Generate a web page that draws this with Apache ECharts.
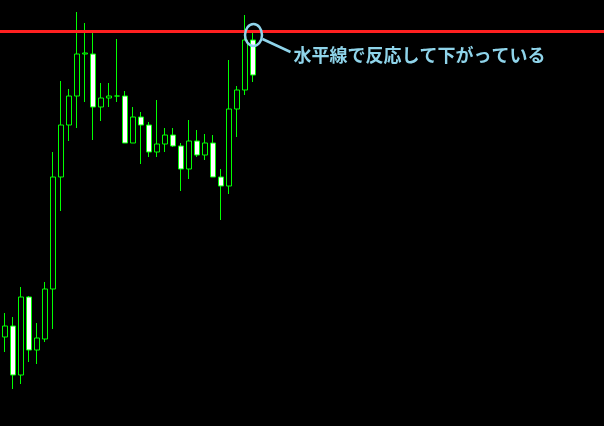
<!DOCTYPE html>
<html><head><meta charset="utf-8">
<script src="https://cdn.jsdelivr.net/npm/echarts@6/dist/echarts.min.js"></script>
<style>html,body{margin:0;padding:0;background:#000;}#c{width:604px;height:426px;}</style>
</head><body><div id="c"></div>
<script>
// candle values: open, close, low, high (arbitrary price units)
const categories = Array.from({length: 32}, (_, i) => 'C' + (i + 1));
const opens  = [89,100,51,129,76,87,137,249,301,330,372,372,319,328,330,330,283,309,301,274,282,291,280,257,285,271,283,249,240,317,336,386];
const closes = [100,51,129,76,88,137,249,301,330,372,373,319,328,330,330,283,309,301,274,282,291,280,257,285,271,283,249,240,317,336,386,351];
const lows   = [74,37,42,64,62,84,97,215,285,298,324,286,305,319,324,283,283,262,269,269,274,279,235,247,269,266,249,206,232,289,331,344];
const highs  = [113,109,139,130,103,144,274,345,337,414,403,394,343,343,387,335,319,314,304,326,298,298,283,306,296,292,291,257,366,340,411,393];
const levelLine = 394.5;
const noteText = '水平線で反応して下がっている';
const noteIndex = 31;

const data = opens.map((o, i) => [o, closes[i], lows[i], highs[i]]);
const chart = echarts.init(document.getElementById('c'));
chart.setOption({
  backgroundColor: '#000',
  animation: false,
  grid: {left: 1, top: 0, bottom: 0, width: 256},
  xAxis: {type: 'category', data: categories, show: false, boundaryGap: true},
  yAxis: {type: 'value', min: 0, max: 426, show: false},
  series: [{
    type: 'candlestick',
    data: data,
    barWidth: 5,
    itemStyle: {color: '#000', color0: '#fff', borderColor: '#00ff00', borderColor0: '#00ff00', borderWidth: 1}
  }]
});
const yLine = chart.convertToPixel({gridIndex: 0}, [0, levelLine])[1];
const pt = chart.convertToPixel({gridIndex: 0}, [noteIndex, highs[noteIndex]]);
const cx = pt[0] + 0.5, cy = pt[1] + 2;
const annColor = '#8fd4ea';
chart.setOption({
  graphic: [
    {type: 'line', shape: {x1: 0, y1: yLine, x2: 604, y2: yLine}, style: {stroke: '#ff2020', lineWidth: 3}, z: 10},
    {type: 'ellipse', shape: {cx: cx, cy: cy, rx: 8.5, ry: 11}, style: {stroke: annColor, lineWidth: 2.5, fill: null}, z: 11},
    {type: 'line', shape: {x1: cx + 9, y1: cy + 4, x2: cx + 37, y2: cy + 17}, style: {stroke: annColor, lineWidth: 2.5}, z: 11},
    {type: 'text', x: cx + 40, y: cy + 20, style: {text: noteText, fill: annColor, font: 'bold 18px "Noto Sans CJK JP"', verticalAlign: 'middle', align: 'left'}, z: 11}
  ]
});
</script></body></html>
